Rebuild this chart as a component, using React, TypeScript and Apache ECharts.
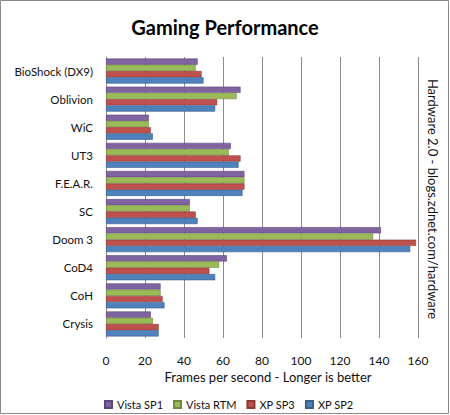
import React, { useEffect, useRef } from "react";
import * as echarts from "echarts";

const categories = ["Crysis", "CoH", "CoD4", "Doom 3", "SC", "F.E.A.R.", "UT3", "WiC", "Oblivion", "BioShock (DX9)"];
const vistaSP1 = [23, 28, 62, 141, 43, 71, 64, 22, 69, 47];
const vistaRTM = [24, 28, 58, 137, 43, 71, 63, 22, 67, 46];
const xpSP3 = [27, 29, 53, 159, 46, 71, 69, 23, 57, 49];
const xpSP2 = [27, 30, 56, 156, 47, 70, 68, 24, 56, 50];
const xTicks = [0, 20, 40, 60, 80, 100, 120, 140, 160];

const FONT = "Lato, 'Open Sans', sans-serif";

export default function App() {
  const ref = useRef<HTMLDivElement>(null);
  useEffect(() => {
    document.body.style.margin = "0";
    const chart = echarts.init(ref.current!, null, { renderer: "svg" });
    const mk = (name: string, data: number[], color: string, border: string) => ({
      name,
      type: "bar",
      data,
      barGap: "0%",
      barCategoryGap: "11%",
      itemStyle: { color, borderColor: border, borderWidth: 0.6 },
    });
    chart.setOption({
      animation: false,
      textStyle: { fontFamily: FONT },
      title: {
        text: "Gaming Performance",
        left: "center",
        top: 12,
        textStyle: { fontFamily: FONT, fontWeight: "bold", fontSize: 20, color: "#000" },
      },
      graphic: [
        {
          type: "rect",
          shape: { x: 0.5, y: 0.5, width: 448, height: 413 },
          style: { fill: "none", stroke: "#8a8a8a", lineWidth: 1 },
          silent: true,
        },
        {
          type: "text",
          x: 433,
          y: 199,
          rotation: -Math.PI / 2,
          style: {
            text: "Hardware 2.0 - blogs.zdnet.com/hardware",
            fontFamily: FONT,
            fontSize: 13,
            fill: "#111",
            textAlign: "center",
            textVerticalAlign: "middle",
          },
        },
      ],
      legend: {
        data: ["Vista SP1", "Vista RTM", "XP SP3", "XP SP2"],
        left: 99,
        top: 394,
        itemWidth: 7,
        itemHeight: 7,
        itemGap: 10,
        icon: "rect",
        textStyle: { fontFamily: FONT, fontSize: 11, color: "#111" },
      },
      grid: { left: 106, right: 32, top: 57, bottom: 77, containLabel: false },
      xAxis: {
        type: "value",
        min: 0,
        max: xTicks[xTicks.length - 1],
        interval: 20,
        name: "Frames per second - Longer is better",
        nameLocation: "middle",
        nameGap: 31,
        nameTextStyle: { fontFamily: FONT, fontSize: 13, color: "#111", padding: [0, 0, 0, 12] },
        axisLine: { show: false },
        axisTick: { show: false },
        axisLabel: { fontFamily: FONT, fontSize: 12, color: "#111", margin: 16 },
        splitLine: { show: true, lineStyle: { color: "#8c8c8c", width: 1 } },
      },
      yAxis: {
        type: "category",
        data: categories,
        axisLine: { show: true, lineStyle: { color: "#8c8c8c" } },
        axisTick: { show: false },
        axisLabel: { fontFamily: FONT, fontSize: 11.5, color: "#111", margin: 13, padding: [7, 0, 0, 0] },
      },
      series: [
        mk("Vista SP1", vistaSP1, "#8064A2", "#5c4776"),
        mk("Vista RTM", vistaRTM, "#9BBB59", "#71893f"),
        mk("XP SP3", xpSP3, "#C0504D", "#8c3836"),
        mk("XP SP2", xpSP2, "#4F81BD", "#385d8a"),
      ],
    });
    return () => chart.dispose();
  }, []);
  return <div ref={ref} style={{ width: 450, height: 415 }} />;
}
